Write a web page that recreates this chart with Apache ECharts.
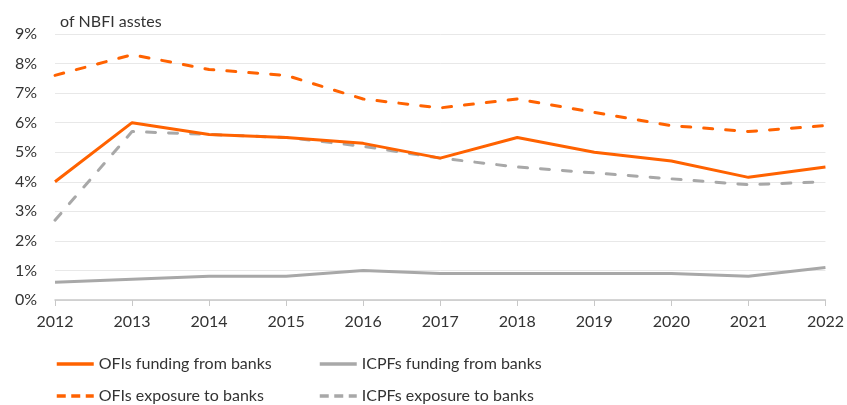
<!DOCTYPE html>
<html><head><meta charset="utf-8">
<script src="https://cdn.jsdelivr.net/npm/echarts@6/dist/echarts.min.js"></script>
<style>html,body{margin:0;padding:0;background:#fff}#c{width:847px;height:405px}</style>
</head><body><div id="c"></div>
<script>
const years = ['2012','2013','2014','2015','2016','2017','2018','2019','2020','2021','2022'];
const ofisFunding = [4.0, 6.0, 5.6, 5.5, 5.3, 4.8, 5.5, 5.0, 4.7, 4.15, 4.5];
const ofisExposure = [7.6, 8.3, 7.8, 7.6, 6.8, 6.5, 6.8, 6.35, 5.9, 5.7, 5.9];
const icpfsFunding = [0.6, 0.7, 0.8, 0.8, 1.0, 0.9, 0.9, 0.9, 0.9, 0.8, 1.1];
const icpfsExposure = [2.7, 5.7, 5.6, 5.5, 5.2, 4.8, 4.5, 4.3, 4.1, 3.9, 4.0];
const yTicks = [0,1,2,3,4,5,6,7,8,9];

const ORANGE = '#FF6200', GREY = '#A8A8A8';
const FONT = 'Lato';
const chart = echarts.init(document.getElementById('c'));
function s(name, data, color, dashed){
  return {name, type:'line', data, symbol:'none', smooth:false,
    lineStyle:{color, width:3, type: dashed ? [9,13] : 'solid', cap: dashed ? 'round' : 'butt'},
    itemStyle:{color}, z: dashed?2:3};
}
function leg(name, left, top, dashed){
  return {left, top, orient:'horizontal', itemWidth:37, itemHeight:14, data:[name],
    itemStyle:{opacity:0},
    lineStyle:{width:3.5, type: dashed ? [9,5.5] : 'solid', cap:'butt'},
    textStyle:{fontFamily:FONT, fontSize:16, color:'#333'}};
}
chart.setOption({
  animation:false,
  textStyle:{fontFamily:FONT},
  title:{text:'of NBFI asstes', left:55, top:9, textStyle:{fontFamily:FONT, fontSize:16, fontWeight:'normal', color:'#333'}},
  grid:{left:55, right:19, top:34, bottom:105, containLabel:false},
  legend:[
    leg('OFIs funding from banks', 50, 351, false),
    leg('OFIs exposure to banks', 50, 383, true),
    leg('ICPFs funding from banks', 313, 351, false),
    leg('ICPFs exposure to banks', 313, 383, true)
  ],
  xAxis:{type:'category', data:years, boundaryGap:false,
    axisLine:{lineStyle:{color:'#c8c8c8', width:1.5}},
    axisTick:{show:true, length:6, alignWithLabel:true, lineStyle:{color:'#c8c8c8'}},
    axisLabel:{fontFamily:FONT, fontSize:16, color:'#333', margin:14, interval:0}},
  yAxis:{type:'value', min:0, max:9, interval:1,
    axisLine:{show:false}, axisTick:{show:false},
    splitLine:{lineStyle:{color:'#e8e8e8', width:1}},
    axisLabel:{fontFamily:FONT, fontSize:16, color:'#333', margin:18,
      formatter: v => yTicks.includes(v) ? v + '%' : ''}},
  series:[
    s('OFIs funding from banks', ofisFunding, ORANGE, false),
    s('ICPFs funding from banks', icpfsFunding, GREY, false),
    s('OFIs exposure to banks', ofisExposure, ORANGE, true),
    s('ICPFs exposure to banks', icpfsExposure, GREY, true)
  ]
});
</script></body></html>
